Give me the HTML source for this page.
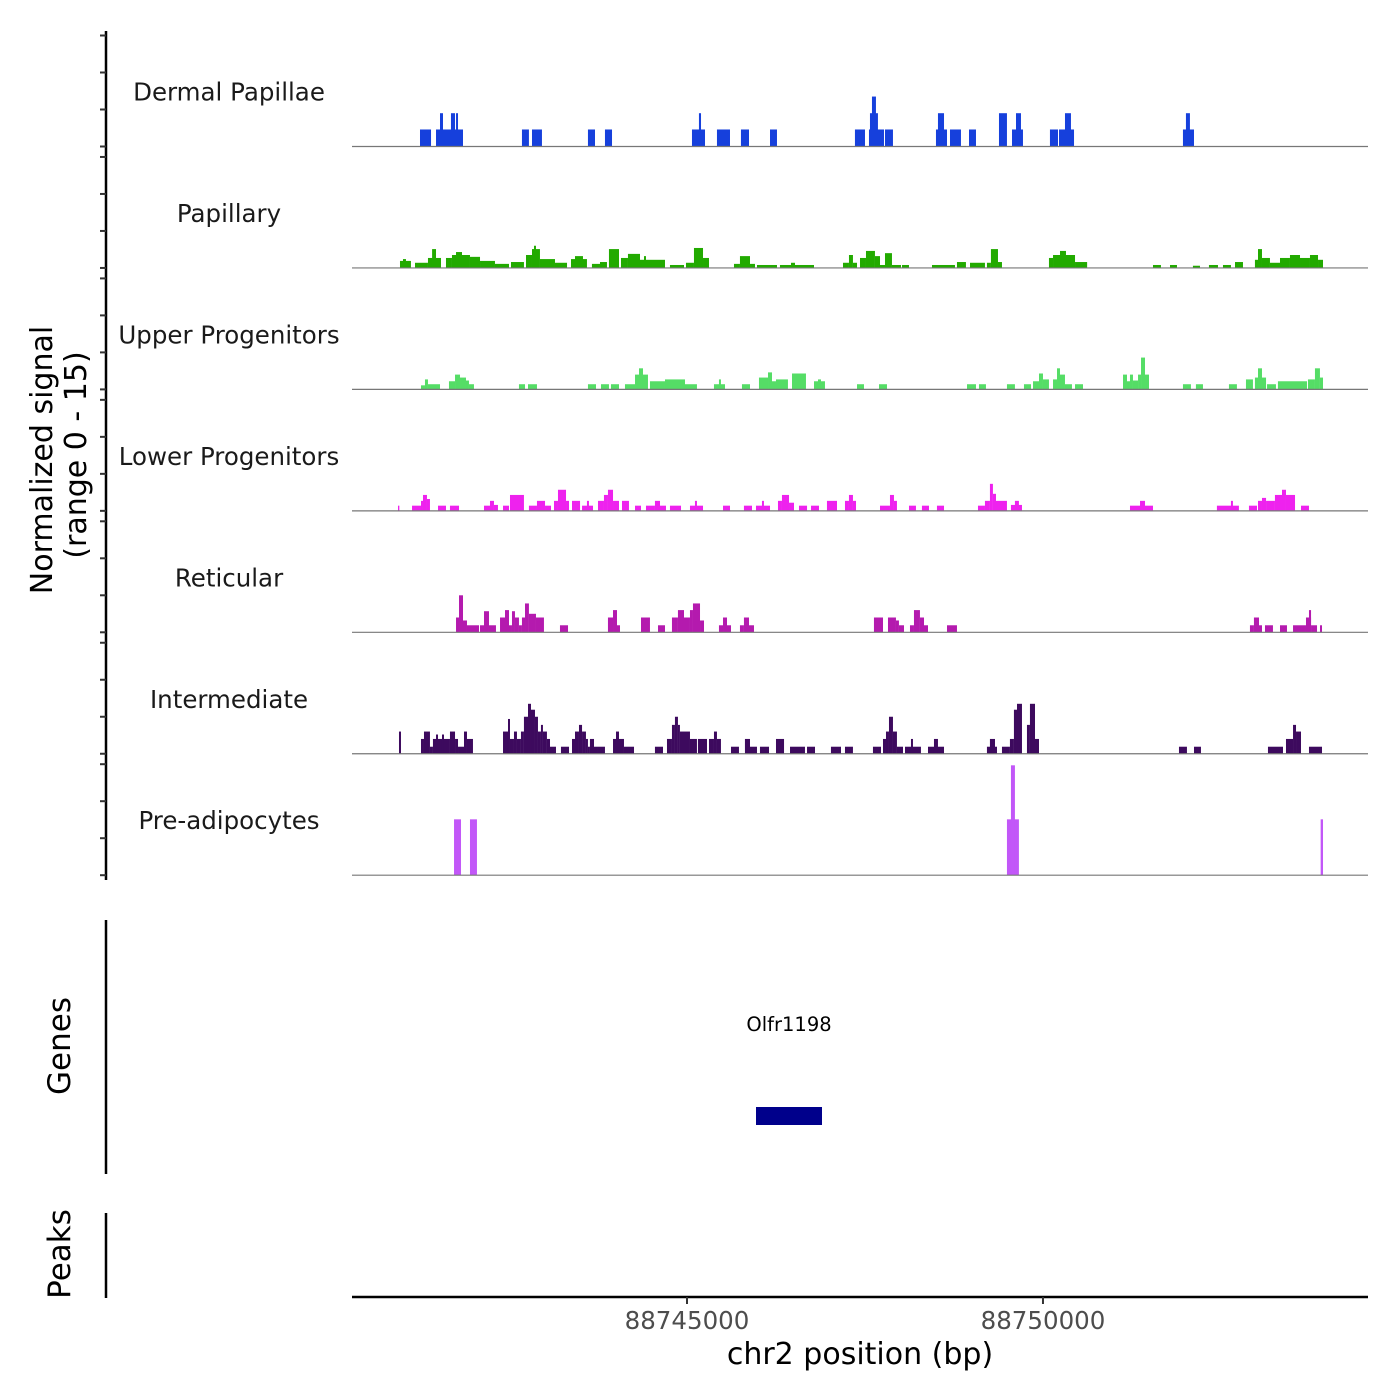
<!DOCTYPE html>
<html><head><meta charset="utf-8"><style>
body{margin:0;background:#fff;}
svg{display:block;font-family:"DejaVu Sans","Liberation Sans",sans-serif;}
</style></head><body>
<svg id="chart" width="1400" height="1400" viewBox="0 0 1400 1400" xmlns="http://www.w3.org/2000/svg">
<g id="axes"></g>
<g id="tracks"></g>
<text transform="translate(52,460) rotate(-90)" text-anchor="middle" font-size="30" fill="#000">Normalized signal</text>
<text transform="translate(86,455) rotate(-90)" text-anchor="middle" font-size="30" fill="#000">(range 0 - 15)</text>
<text transform="translate(70,1046) rotate(-90)" text-anchor="middle" font-size="31" fill="#000">Genes</text>
<text transform="translate(70,1254) rotate(-90)" text-anchor="middle" font-size="31" fill="#000">Peaks</text>
<rect x="756" y="1107" width="66" height="18" fill="#00008b"/>
<text x="789" y="1031" text-anchor="middle" font-size="19.5" fill="#000">Olfr1198</text>
<text x="860" y="1364" text-anchor="middle" font-size="30" fill="#000">chr2 position (bp)</text>
</svg>
<script>
const chromStart = 88740000;
const xDomain = [88740295, 88754565];
const xTicks = [88745000, 88750000];
const xTickLabels = ["88745000", "88750000"];
const yTicks = [0, 5, 10, 15];
const trackNames = ["Dermal Papillae","Papillary","Upper Progenitors","Lower Progenitors","Reticular","Intermediate","Pre-adipocytes"];
const trackColors = ["#1640dc","#22aa00","#55dd66","#ee22ee","#b41aae","#3d0a5e","#c257f8"];
// segments: [startOffset, endOffset, signal]
const dermalPapillae = [[1250,1405,2.3],[1475,1854,2.3],[1531,1573,4.5],[1685,1742,4.5],[1756,1784,4.5],[2682,2780,2.3],[2823,2963,2.3],[3609,3708,2.3],[3848,3947,2.3],[5070,5253,2.3],[5168,5197,4.5],[5421,5604,2.3],[5758,5871,2.3],[6166,6264,2.3],[7359,7500,2.3],[7556,7767,2.3],[7570,7682,4.5],[7598,7654,6.75],[7781,7893,2.3],[8497,8652,2.3],[8525,8610,4.5],[8694,8848,2.3],[8961,9059,2.3],[9382,9494,4.5],[9565,9719,2.3],[9621,9691,4.5],[10098,10211,2.3],[10225,10436,2.3],[10309,10393,4.5],[11966,12121,2.3],[12008,12064,4.5]];
const papillary = [[969,1123,0.95],[1011,1053,1.2],[1180,1362,0.7],[1362,1545,1.35],[1420,1475,2.55],[1615,1699,1.35],[1699,1952,1.75],[1756,1840,2.15],[1952,2093,1.5],[2093,2303,0.95],[2303,2500,0.55],[2528,2710,0.8],[2739,2823,1.75],[2823,2935,2.55],[2851,2879,3.0],[2935,3146,1.2],[3146,3315,0.7],[3371,3595,1.2],[3427,3539,1.6],[3665,3778,0.55],[3778,3876,0.8],[3904,4045,2.55],[4073,4171,1.35],[4171,4340,1.9],[4340,4691,1.1],[4396,4424,1.6],[4761,4958,0.4],[4986,5098,0.7],[5098,5225,2.7],[5225,5309,1.35],[5660,5744,0.55],[5744,5885,1.6],[5885,5955,0.55],[5983,6264,0.4],[6306,6784,0.4],[6461,6517,0.7],[7191,7275,0.7],[7275,7331,1.75],[7331,7388,0.7],[7430,7514,1.35],[7514,7640,2.3],[7640,7711,1.6],[7711,7781,0.4],[7781,7879,2.0],[7879,8006,0.4],[8020,8118,0.4],[8441,8764,0.4],[8792,8918,0.8],[8975,9185,0.7],[9213,9269,0.7],[9269,9368,2.55],[9368,9424,0.8],[10084,10141,1.35],[10141,10450,1.75],[10239,10323,2.3],[10450,10620,0.8],[11545,11657,0.4],[11784,11882,0.4],[12106,12205,0.3],[12331,12458,0.4],[12528,12640,0.4],[12697,12809,0.8],[12977,13034,1.1],[13020,13076,2.55],[13076,13188,1.35],[13188,13329,0.7],[13329,13469,1.35],[13469,13610,1.75],[13610,13750,1.35],[13750,13863,1.75],[13863,13933,1.1]];
const upperProgenitors = [[1264,1320,0.55],[1320,1362,1.35],[1362,1531,0.7],[1657,1742,1.1],[1742,1812,2.0],[1812,1896,1.6],[1896,1938,1.2],[1938,2008,0.7],[2640,2725,0.7],[2767,2893,0.7],[3609,3722,0.7],[3792,3904,0.7],[3932,4045,0.7],[4129,4270,0.7],[4270,4452,2.0],[4326,4382,2.85],[4480,4691,1.1],[4691,4972,1.35],[4972,5140,0.7],[5379,5534,0.7],[5449,5477,1.35],[5772,5885,0.7],[6011,6138,1.6],[6138,6194,2.3],[6194,6250,1.1],[6250,6418,1.35],[6475,6671,2.15],[6784,6938,1.1],[6840,6882,1.35],[7388,7486,0.7],[7697,7809,0.7],[8933,9059,0.7],[9101,9199,0.7],[9494,9606,0.7],[9733,9832,0.7],[9860,9944,1.1],[9944,10000,2.15],[10000,10084,1.35],[10141,10197,1.35],[10197,10239,2.85],[10239,10309,2.0],[10309,10407,0.7],[10450,10562,0.7],[11124,11180,2.0],[11180,11222,1.1],[11222,11264,2.0],[11264,11335,1.2],[11335,11377,2.0],[11377,11433,4.3],[11433,11489,2.0],[11966,12078,0.7],[12148,12247,0.7],[12612,12724,0.7],[12851,12949,1.35],[12977,13133,1.6],[13020,13076,2.85],[13147,13272,0.7],[13300,13708,1.1],[13722,13820,1.35],[13820,13890,2.85],[13890,13933,1.6]];
const lowerProgenitors = [[941,960,0.7],[1138,1264,0.7],[1264,1292,1.35],[1292,1348,2.15],[1348,1390,1.6],[1503,1615,0.7],[1671,1798,0.7],[2149,2233,0.7],[2233,2289,1.35],[2289,2345,0.8],[2416,2500,0.7],[2514,2710,2.15],[2780,2893,0.7],[2893,3006,1.35],[3006,3090,0.7],[3132,3188,1.35],[3188,3301,2.85],[3301,3343,1.35],[3385,3498,1.35],[3526,3680,0.7],[3595,3623,1.35],[3750,3834,1.35],[3834,3890,2.15],[3890,3961,2.85],[3961,4045,1.35],[4087,4185,1.35],[4270,4354,0.7],[4424,4550,0.7],[4550,4621,1.35],[4621,4705,0.7],[4761,4916,0.7],[5042,5225,0.7],[5112,5140,1.35],[5506,5604,0.7],[5800,5913,0.7],[5969,6166,0.7],[6053,6081,1.35],[6278,6334,1.35],[6334,6433,2.15],[6433,6503,1.1],[6573,6686,0.7],[6742,6854,0.7],[6966,7107,1.35],[7219,7275,1.35],[7275,7331,2.15],[7331,7374,1.35],[7711,7851,0.7],[7851,7907,2.15],[7907,7949,1.35],[8118,8216,0.7],[8300,8399,0.7],[8511,8610,0.7],[9087,9185,0.7],[9185,9255,1.35],[9255,9297,3.65],[9297,9494,1.35],[9297,9340,2.3],[9550,9705,0.8],[9606,9662,1.35],[11222,11545,0.7],[11363,11433,1.35],[12443,12752,0.7],[12640,12668,1.35],[12893,13006,0.7],[13020,13076,1.35],[13076,13133,1.75],[13133,13258,1.35],[13258,13357,2.15],[13357,13413,2.85],[13413,13540,2.15],[13624,13736,0.7]];
const reticular = [[1756,1798,2.0],[1798,1854,5.0],[1854,1910,1.6],[1910,2079,0.95],[2093,2149,0.95],[2149,2219,2.85],[2219,2317,0.95],[2374,2444,2.0],[2444,2500,3.0],[2500,2542,0.95],[2542,2584,2.85],[2584,2640,2.0],[2640,2682,0.95],[2682,2725,2.0],[2725,2780,3.9],[2780,2879,2.5],[2879,2991,2.0],[3216,3329,0.95],[3890,3961,2.0],[3961,4017,3.0],[4017,4059,0.95],[4354,4480,2.0],[4593,4691,0.95],[4789,4873,2.0],[4873,4958,3.0],[4958,5042,2.0],[5042,5084,3.0],[5084,5183,3.9],[5183,5239,1.6],[5449,5506,0.95],[5506,5562,2.0],[5562,5618,0.95],[5744,5800,0.95],[5800,5871,2.0],[5871,5941,0.95],[7626,7753,2.0],[7823,7935,2.0],[7935,7977,1.6],[7977,8048,0.95],[8132,8188,0.95],[8188,8272,3.0],[8272,8329,2.0],[8329,8385,0.95],[8652,8792,0.95],[12907,12963,0.95],[12963,13034,2.0],[13034,13076,0.95],[13118,13230,0.95],[13329,13427,0.95],[13512,13638,0.95],[13638,13694,0.95],[13694,13765,2.0],[13736,13765,3.0],[13765,13849,0.95],[13891,13919,0.95]];
const intermediate = [[955,983,3.0],[1264,1306,2.0],[1306,1390,3.0],[1390,1432,0.95],[1432,1671,2.0],[1475,1503,2.6],[1559,1587,2.6],[1671,1742,3.0],[1742,1784,2.0],[1784,1868,0.95],[1868,1910,3.0],[1910,1994,2.0],[2416,2486,3.0],[2486,2514,4.7],[2514,2570,2.0],[2570,2612,3.0],[2612,2668,2.0],[2668,2710,3.0],[2710,2767,5.0],[2767,2809,6.75],[2809,2865,5.95],[2865,2907,5.0],[2907,2949,3.0],[2949,2977,3.9],[2977,3033,3.0],[3033,3076,2.0],[3076,3160,0.95],[3230,3343,0.95],[3385,3427,2.0],[3427,3483,3.0],[3483,3526,3.9],[3526,3581,3.0],[3581,3609,2.0],[3609,3637,0.95],[3637,3694,2.0],[3694,3750,0.95],[3750,3848,0.95],[3961,4003,2.0],[4003,4045,3.0],[4045,4115,2.0],[4115,4256,0.95],[4550,4663,0.95],[4719,4789,2.0],[4789,4831,3.9],[4831,4873,5.0],[4873,4901,3.9],[4901,5042,3.0],[5042,5140,2.0],[5154,5281,2.0],[5309,5379,2.0],[5379,5421,3.0],[5421,5477,2.0],[5618,5730,0.95],[5814,5885,2.0],[5885,5983,0.95],[6025,6152,0.95],[6250,6363,2.0],[6447,6657,0.95],[6686,6798,0.95],[7022,7163,0.95],[7219,7331,0.95],[7612,7725,0.95],[7753,7795,2.0],[7795,7837,3.0],[7837,7893,5.0],[7893,7949,3.0],[7949,8034,0.95],[8062,8286,0.95],[8146,8174,2.0],[8385,8610,0.95],[8469,8525,2.0],[9213,9354,0.95],[9255,9326,2.0],[9424,9536,0.95],[9536,9592,2.0],[9592,9635,5.95],[9635,9705,6.75],[9775,9817,3.9],[9817,9888,6.75],[9888,9944,2.0],[11910,12022,0.95],[12121,12219,0.95],[13160,13371,0.95],[13413,13512,2.0],[13512,13554,3.9],[13554,13624,3.0],[13736,13919,0.95]];
const preAdipocytes = [[1728,1826,7.55],[1952,2050,7.55],[9494,9662,7.55],[9550,9606,14.85],[13900,13933,7.55]];
const trackData = [dermalPapillae, papillary, upperProgenitors, lowerProgenitors, reticular, intermediate, preAdipocytes];

const NS = "http://www.w3.org/2000/svg";
const plotL = 352, plotR = 1368;
const firstBaseline = 146.5, trackStep = 121.45, pxPerUnit = 7.4;
function xScale(bp){ return plotL + (bp - xDomain[0]) / (xDomain[1] - xDomain[0]) * (plotR - plotL); }
function yScale(v, i){ return firstBaseline + i * trackStep - v * pxPerUnit; }
function mk(tag, attrs, parent){ const e = document.createElementNS(NS, tag); for (const k in attrs) e.setAttribute(k, attrs[k]); parent.appendChild(e); return e; }

const axes = document.getElementById('axes');
const tracks = document.getElementById('tracks');

let ln = mk('line', {x1:106, y1:31, x2:106, y2:880, stroke:'#000', 'stroke-width':2.5}, axes);


trackNames.forEach((name, i) => {
  yTicks.forEach(t => {
    const y = yScale(t, i);
    const tk = mk('line', {x1:100, y1:y, x2:106, y2:y, stroke:'#333', 'stroke-width':2}, axes);
    
    
  });
});
let gl = mk('line', {x1:106, y1:920, x2:106, y2:1174, stroke:'#000', 'stroke-width':2.5}, axes);


let pl = mk('line', {x1:106, y1:1213, x2:106, y2:1298, stroke:'#000', 'stroke-width':2.5}, axes);



let xl = mk('line', {x1:plotL, y1:1297, x2:plotR, y2:1297, stroke:'#000', 'stroke-width':2.5}, axes);


xTicks.forEach((t, k) => {
  const x = xScale(t);
  const tk = mk('line', {x1:x, y1:1297, x2:x, y2:1304, stroke:'#333', 'stroke-width':2}, axes);
  
  
  const lb = mk('text', {x:x, y:1329, 'text-anchor':'middle', 'font-size':24.5, fill:'#4d4d4d'}, axes);
  lb.textContent = xTickLabels[k];
  
  
});

trackNames.forEach((name, i) => {
  const g = mk('g', {}, tracks);
  
  
  const base = yScale(0, i);
  const lab = mk('text', {x:229, y:base - 46, 'text-anchor':'middle', 'font-size':24.5, fill:'#1a1a1a'}, g);
  lab.textContent = name;
  
  
  trackData[i].forEach(s => {
    const x1 = xScale(chromStart + s[0]), x2 = xScale(chromStart + s[1]);
    const y = yScale(s[2], i);
    const r = mk('rect', {x:x1, y:y, width:Math.max(1, x2 - x1), height:base - y, fill:trackColors[i]}, g);
    
    
  });
  const bl = mk('line', {x1:plotL, y1:base, x2:plotR, y2:base, stroke:'#777', 'stroke-width':1.2}, g);
  
  
});
</script>
</body></html>
